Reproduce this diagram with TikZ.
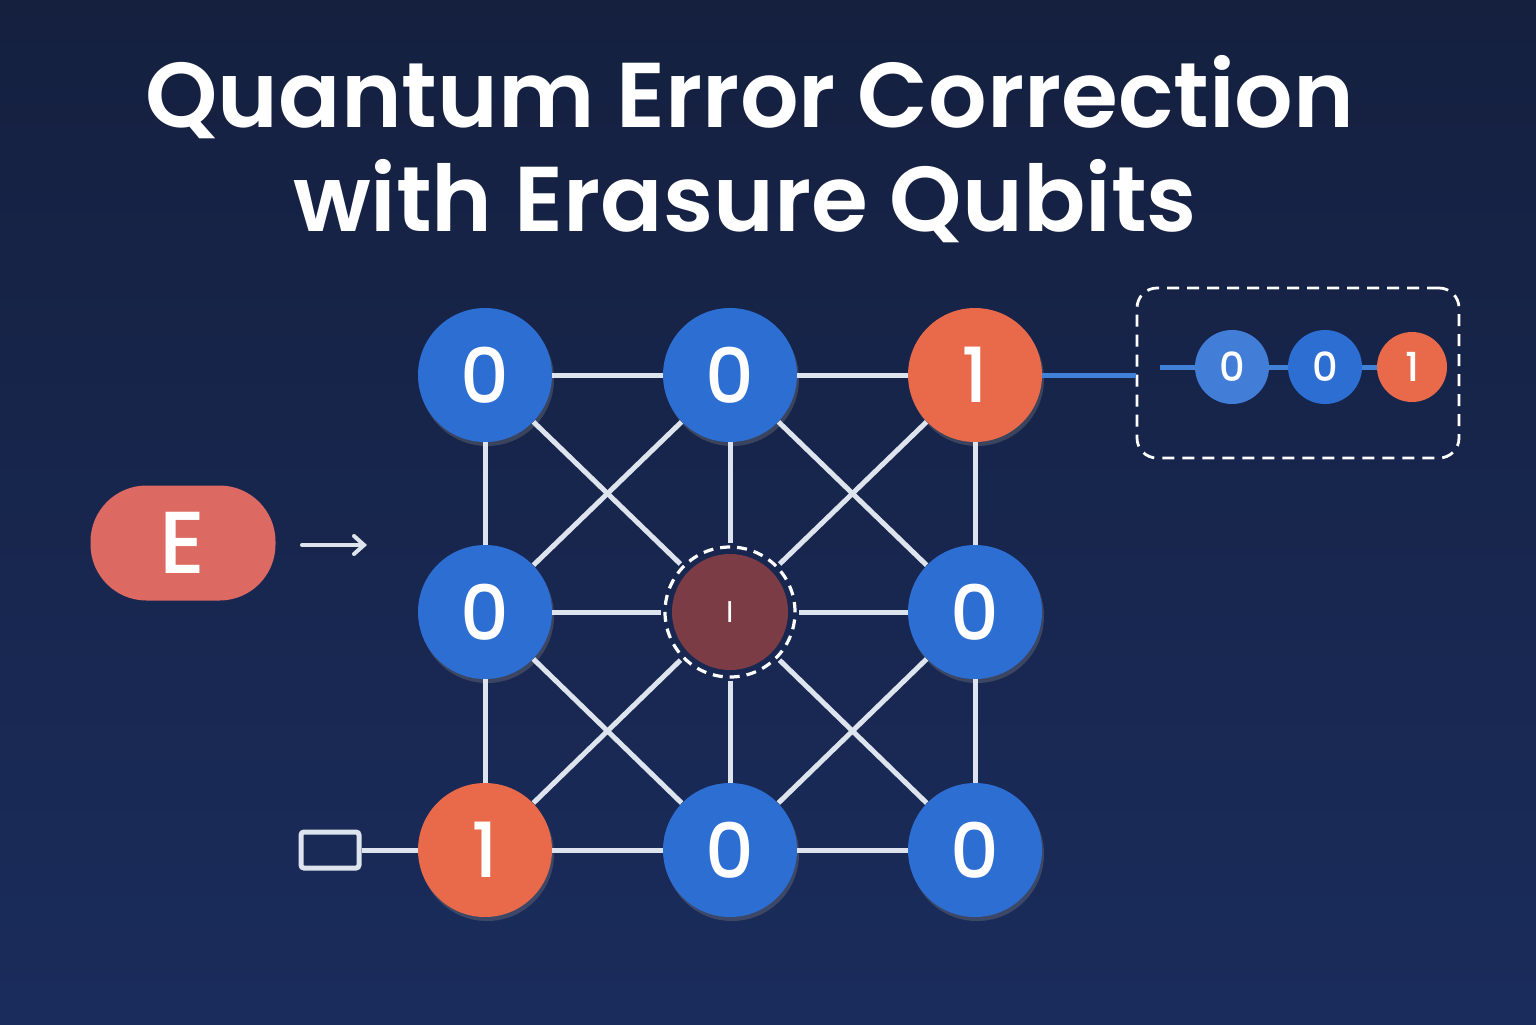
\documentclass[tikz,border=0pt]{standalone}
\usepackage{fontspec}
\setmainfont{Poppins}
\newfontfamily\titlefont{Poppins SemiBold}
\newfontfamily\medfont{Poppins Medium}
\usetikzlibrary{arrows.meta,shadows}
\definecolor{bgtop}{HTML}{15203F}
\definecolor{bgbot}{HTML}{1A2C5C}
\definecolor{qblue}{HTML}{2D6ED3}
\definecolor{qorange}{HTML}{E86A4A}
\definecolor{epill}{HTML}{DC6A63}
\definecolor{erred}{HTML}{7B3C46}
\definecolor{edgec}{HTML}{DDE4EE}
\definecolor{linkblue}{HTML}{3F82D8}
\begin{document}
\begin{tikzpicture}[x=0.5pt,y=-0.5pt,
  title/.style={text=white,font=\titlefont\fontsize{46}{52}\selectfont,anchor=base},
  qb/.style={circle,minimum size=67pt,inner sep=0pt,text=white,
    font=\medfont\fontsize{38}{40}\selectfont,drop shadow={opacity=0.35,shadow xshift=1pt,shadow yshift=-2pt}},
  qzero/.style={qb,fill=qblue},
  qone/.style={qb,fill=qorange},
  sq/.style={circle,minimum size=37pt,inner sep=0pt,text=white,font=\medfont\fontsize{20}{22}\selectfont},
  edge/.style={draw=edgec,line width=2.5pt},
  link/.style={draw=linkblue,line width=2.5pt},
  pill/.style={fill=epill,minimum width=92.5pt,minimum height=57.5pt,rounded corners=28pt,
    text=white,font=\medfont\fontsize{44}{46}\selectfont},
  dashbox/.style={draw=white,dashed,dash pattern=on 6pt off 4pt,line width=1.4pt,
    minimum width=161pt,minimum height=85pt,rounded corners=10pt},
  ring/.style={circle,minimum size=65pt,inner sep=0pt,draw=white,line width=1.6pt,
    dash pattern=on 5pt off 3.5pt,outer sep=2pt},
  smallbox/.style={draw=edgec,line width=2.5pt,minimum width=29pt,minimum height=18pt,
    inner sep=0pt,rounded corners=1.5pt}
]
\useasboundingbox (0,0) rectangle (1536,1024);
\shade[top color=bgtop,bottom color=bgbot] (0,0) rectangle (1536,1024);

% title
\node[title] (t1) at (750,127) {Quantum Error Correction};
\node[title] (t2) at (745,231) {with Erasure Qubits};

% grid qubits
\node[qzero] (a1) at (485,375) {0};
\node[qzero] (a2) at (730,375) {0};
\node[qone]  (a3) at (975,375) {1};
\node[qzero] (b1) at (485,612) {0};
\node[ring]  (b2) at (730,612) {};
\node[qzero] (b3) at (975,612) {0};
\node[qone]  (c1) at (485,850) {1};
\node[qzero] (c2) at (730,850) {0};
\node[qzero] (c3) at (975,850) {0};
\fill[erred] (b2.center) circle (29pt);
\node[text=white,font=\fontsize{15}{16}\selectfont] (b2l) at (b2.center) {I};

% edges
\draw[edge] (a1) -- (a2);
\draw[edge] (a2) -- (a3);
\draw[edge] (b1) -- (b2);
\draw[edge] (b2) -- (b3);
\draw[edge] (c1) -- (c2);
\draw[edge] (c2) -- (c3);
\draw[edge] (a1) -- (b1);
\draw[edge] (b1) -- (c1);
\draw[edge] (a2) -- (b2);
\draw[edge] (b2) -- (c2);
\draw[edge] (a3) -- (b3);
\draw[edge] (b3) -- (c3);
\draw[edge] (a1) -- (b2);
\draw[edge] (a2) -- (b1);
\draw[edge] (a2) -- (b3);
\draw[edge] (a3) -- (b2);
\draw[edge] (b1) -- (c2);
\draw[edge] (b2) -- (c1);
\draw[edge] (b2) -- (c3);
\draw[edge] (b3) -- (c2);

% erasure box on the right
\node[dashbox] (box) at (1298,373) {};
\draw[link] (a3) -- (a3 -| box.west);
\coordinate (s0) at (1160,367);
\node[sq,fill=qblue!90!white] (s1) at (1232,367) {0};
\node[sq,fill=qblue] (s2) at (1325,367) {0};
\node[sq,fill=qorange,minimum size=35pt] (s3) at (1412,367) {1};
\draw[link] (s0) -- (s1);
\draw[link] (s1) -- (s2);
\draw[link] (s2) -- (s3);

% erasure label and arrow
\node[pill] (E) at (183,543) {E};
\coordinate (ar0) at (302,545);
\coordinate (ar1) at (367,545);
\draw[edgec,line width=2pt,line cap=round,-{Straight Barb[length=5pt,width=9pt,line cap=round]}] (ar0) -- (ar1);

% small box
\node[smallbox] (sb) at (330,850) {};
\draw[edge] (sb) -- (c1);
\end{tikzpicture}
\end{document}
